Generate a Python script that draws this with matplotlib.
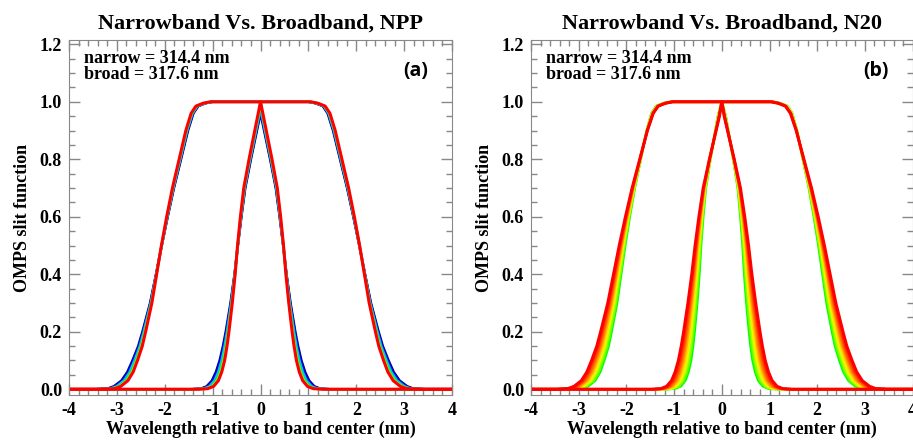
import numpy as np
import matplotlib
matplotlib.use('Agg')
from matplotlib import pyplot as plt
from matplotlib.ticker import MultipleLocator

# half-profiles (x in nm from band center)
narrow_y = [1.0, 0.95, 0.9, 0.8, 0.7, 0.6, 0.5, 0.4, 0.3, 0.2, 0.15, 0.1, 0.06, 0.03, 0.01, 0.002, 0.0]
narrow_x = [0.0, 0.06, 0.12, 0.24, 0.35, 0.42, 0.48, 0.53, 0.59, 0.66, 0.70, 0.75, 0.81, 0.88, 0.98, 1.10, 1.30]
broad_y = [1.0, 1.0, 0.995, 0.985, 0.96, 0.9, 0.8, 0.7, 0.6, 0.5, 0.4, 0.3, 0.2, 0.15, 0.1, 0.06, 0.03, 0.01, 0.002, 0.0]
broad_x = [0.0, 1.05, 1.20, 1.35, 1.45, 1.56, 1.70, 1.84, 1.96, 2.07, 2.17, 2.27, 2.40, 2.47, 2.57, 2.66, 2.77, 2.92, 3.05, 3.30]

# per-curve edge offsets (nm) near the base and near the top
npp_colors = ['#000080', '#0000ff', '#00c0ff', '#00e080', '#80ff00', '#ff0000']
npp_dlo = [0.15, 0.12, 0.09, 0.06, 0.03, 0.0]
npp_dhi = [-0.05, -0.04, -0.03, -0.02, -0.01, 0.0]
npp_pow = 3

n20_colors = ['#00ff00', '#60ff00', '#a0ff00', '#e0ff00', '#ffe000', '#ffb000',
              '#ff8000', '#ff5000', '#ff2800', '#ff0000']
n20_dlo = [-0.12, -0.087, -0.053, -0.02, 0.013, 0.047, 0.08, 0.113, 0.147, 0.18]
n20_dhi = [0.03, 0.024, 0.019, 0.013, 0.008, 0.002, -0.003, -0.009, -0.014, -0.02]
n20_pow = 1

titles = ['Narrowband Vs. Broadband, NPP', 'Narrowband Vs. Broadband, N20']
panel_tags = ['(a)', '(b)']
label_text = 'narrow = 314.4 nm\nbroad = 317.6 nm'

serif = 'Liberation Serif'
plt.rcParams['font.family'] = serif
plt.rcParams['font.weight'] = 'bold'


def full_curve(hx, hy, dlo, dhi, p):
    hx = np.array(hx)
    hy = np.array(hy)
    dx = dlo * (1 - hy) ** p + dhi * hy
    xs = hx + dx
    xs[0] = 0.0
    x = np.concatenate([[-4.0], -xs[::-1], xs[1:], [4.0]])
    y = np.concatenate([[0.0], hy[::-1], hy[1:], [0.0]])
    return x, y


fig = plt.figure(figsize=(9.13, 4.44), dpi=100)
ax1 = fig.add_axes([0.0756, 0.1104, 0.4195, 0.7995])
ax2 = fig.add_axes([0.5816, 0.1104, 0.4180, 0.7995])

sets = [(npp_colors, npp_dlo, npp_dhi, npp_pow), (n20_colors, n20_dlo, n20_dhi, n20_pow)]

for i, ax in enumerate([ax1, ax2]):
    cols, dlo, dhi, p = sets[i]
    for c, a, b in zip(cols, dlo, dhi):
        lw = 2.2 if c == '#ff0000' else 1.8
        for hx, hy in [(broad_x, broad_y), (narrow_x, narrow_y)]:
            x, y = full_curve(hx, hy, a, b, p)
            ax.plot(x, y, color=c, lw=lw, solid_joinstyle='round')
    ax.set_xlim(-4, 4)
    ax.set_ylim(-0.02, 1.215)
    ax.xaxis.set_minor_locator(MultipleLocator(0.2))
    ax.yaxis.set_minor_locator(MultipleLocator(0.05))
    ax.set_yticks(np.arange(0, 1.21, 0.2))
    ax.set_yticklabels(['%.1f' % v for v in np.arange(0, 1.21, 0.2)])
    ax.set_xticks(np.arange(-4, 5, 1))
    ax.set_xticklabels(['%d' % v for v in range(-4, 5)])
    ax.tick_params(which='both', direction='in', top=True, right=True,
                   color='#888888', labelsize=13, pad=5)
    ax.tick_params(which='major', length=8, width=1)
    ax.tick_params(which='minor', length=4, width=1)
    for s in ax.spines.values():
        s.set_color('#888888')
    for lab in ax.get_xticklabels() + ax.get_yticklabels():
        lab.set_fontweight('bold')
    ax.set_title(titles[i], fontsize=16, fontweight='bold', pad=8)
    ax.set_xlabel('Wavelength relative to band center (nm)', fontsize=13, fontweight='bold', labelpad=1)
    ax.set_ylabel('OMPS slit function', fontsize=13, fontweight='bold', labelpad=6)
    ax.text(0.04, 0.972, label_text, transform=ax.transAxes, fontsize=13,
            fontweight='bold', va='top', ha='left', linespacing=0.95)
    ax.text(0.905, 0.912, panel_tags[i], transform=ax.transAxes, fontsize=14,
            fontweight='bold', va='center', ha='center', family='Open Sans')

fig.savefig('out.png', dpi=100)
